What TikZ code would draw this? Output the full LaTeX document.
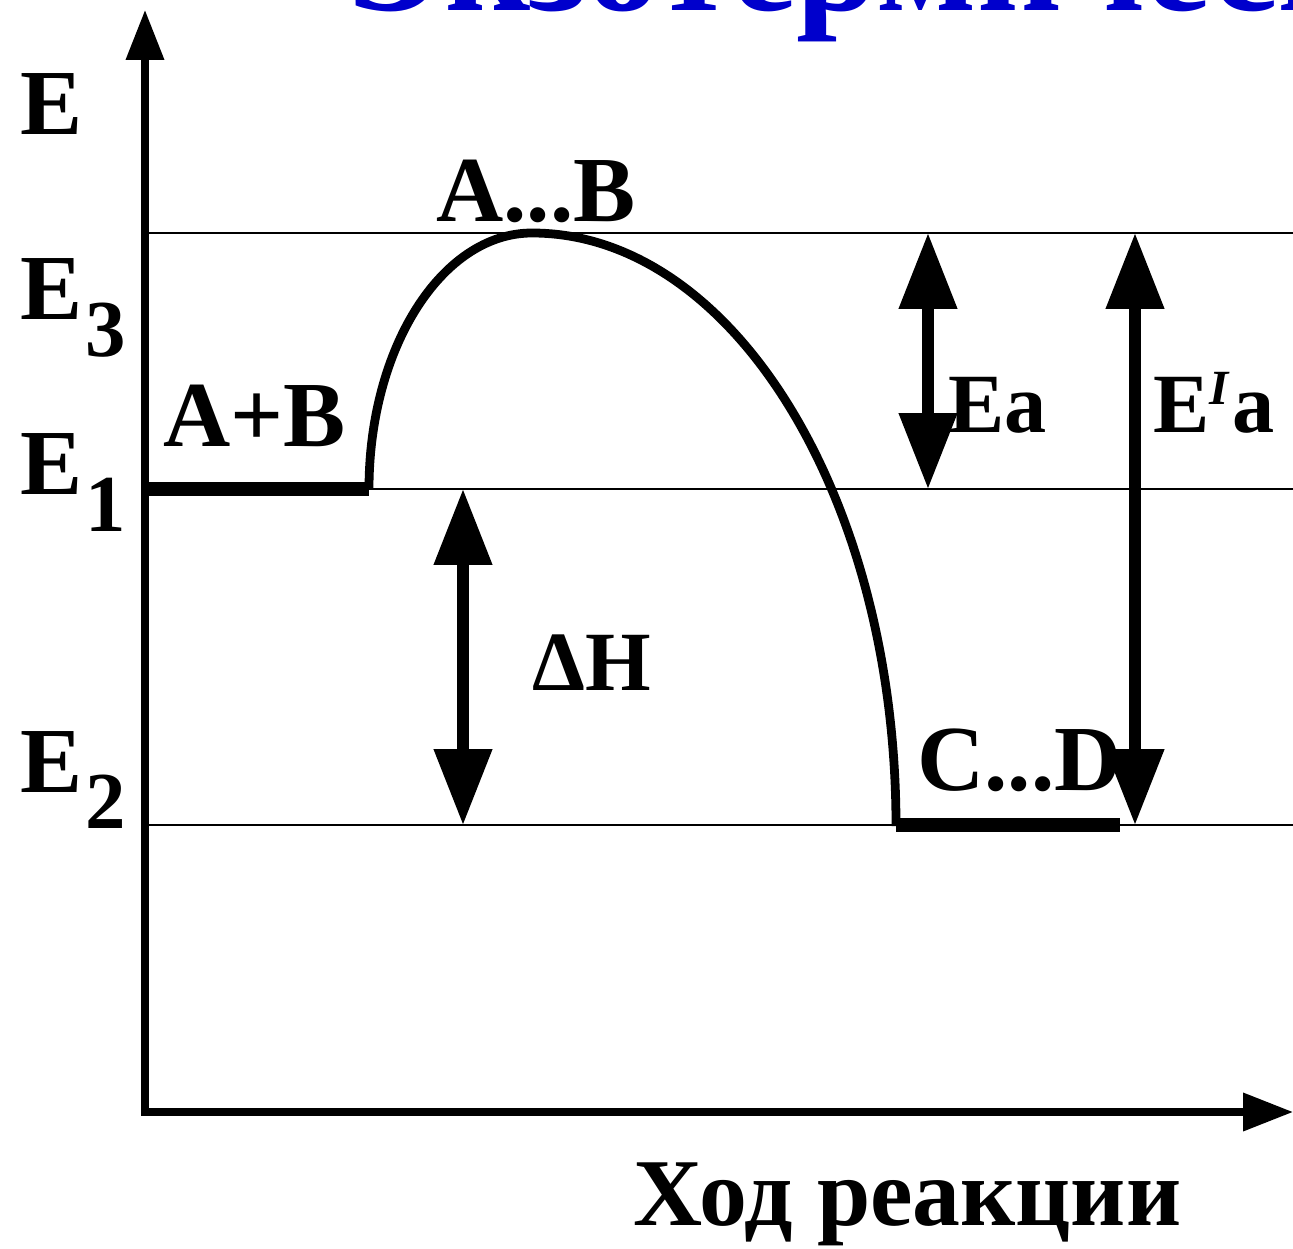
\documentclass[tikz,border=0pt]{standalone}
\usepackage{fontspec}
\setmainfont{Liberation Serif}
\usetikzlibrary{arrows.meta}
\definecolor{TitleBlue}{HTML}{0000CC}
\definecolor{Ink}{HTML}{000000}
\newcommand{\enlevel}[1]{E\kern2pt\raisebox{-21pt}{\fontsize{46pt}{50pt}\selectfont #1}}

\begin{document}
\begin{tikzpicture}[x=0.02cm,y=0.02cm,
    every node/.style={font=\fontsize{53pt}{60pt}\selectfont\bfseries,inner sep=0pt,anchor=base west,text=Ink},
    gaplabel/.style={font=\fontsize{48pt}{54pt}\selectfont\bfseries},
    axis/.style={Ink,line width=4pt,line cap=rect,-{Triangle[length=1cm,width=0.74cm]}},
    levelline/.style={Ink,line width=1.1pt},
    stagebar/.style={Ink,line width=8.5pt},
    profile/.style={Ink,line width=5pt},
    gap/.style={Ink,line width=6.3pt,{Triangle[length=1.52cm,width=1.12cm]}-{Triangle[length=1.52cm,width=1.12cm]}}]
    \useasboundingbox (0,0) rectangle (1293,1248);

    % title, cut by the frame
    \begin{scope}
      \clip (0,0) rectangle (1293,1248);
      \node[font=\fontsize{84pt}{90pt}\selectfont\bfseries,text=TitleBlue] (title) at (345,1237) {Экзотермические реакции};
    \end{scope}

    \coordinate (O) at (145,136);
    \coordinate (ytip) at (145,1238);
    \coordinate (xtip) at (1293,136);

    \foreach \lv/\yy in {3/1015,1/759,2/423} {
      \coordinate (L\lv w) at (145,\yy);
      \coordinate (L\lv e) at (1293,\yy);
      \draw[levelline] (L\lv w) -- (L\lv e);
    }

    \draw[axis] (O) -- (ytip);
    \draw[axis] (O) -- (xtip);

    \coordinate (rise) at (369,759);
    \coordinate (fall) at (896,423);
    \coordinate (prodend) at (1120,423);

    \draw[stagebar] (L1w) -- (rise);
    \draw[stagebar] (fall) -- (prodend);
    \draw[profile] (rise)
      arc[start angle=180,end angle=90,x radius=163,y radius=256] coordinate (peak)
      arc[start angle=90,end angle=0,x radius=364,y radius=593];

    \coordinate (dHtop) at (463,759);
    \coordinate (dHbot) at (463,423);
    \coordinate (Eatop) at (928,1015);
    \coordinate (Eabot) at (928,759);
    \coordinate (Eptop) at (1135,1015);
    \coordinate (Epbot) at (1135,423);
    \draw[gap] (dHtop) -- (dHbot);
    \draw[gap] (Eatop) -- (Eabot);
    \draw[gap] (Eptop) -- (Epbot);

    \node (eaxis) at (20,1113) {E};
    \node (e3) at (20,928) {\enlevel{3}};
    \node (e1) at (20,753) {\enlevel{1}};
    \node (e2) at (20,456) {\enlevel{2}};

    \node (reag) at (163,801) {A+B};
    \node (ts) at (436,1026) {A...B};
    \node (prod) at (917,458) {C...D};
    \node[gaplabel] (dh) at (532,558) {ΔH};
    \node[gaplabel] (ea) at (948,815) {Ea};
    \node[gaplabel] (eap) at (1153,815) {E\raisebox{16pt}{\fontsize{28pt}{30pt}\selectfont\itshape I}\kern2pt a};

    \node[font=\fontsize{54.5pt}{60pt}\selectfont\bfseries] (xlabel) at (633,23) {Ход реакции};
  \end{tikzpicture}
\end{document}
